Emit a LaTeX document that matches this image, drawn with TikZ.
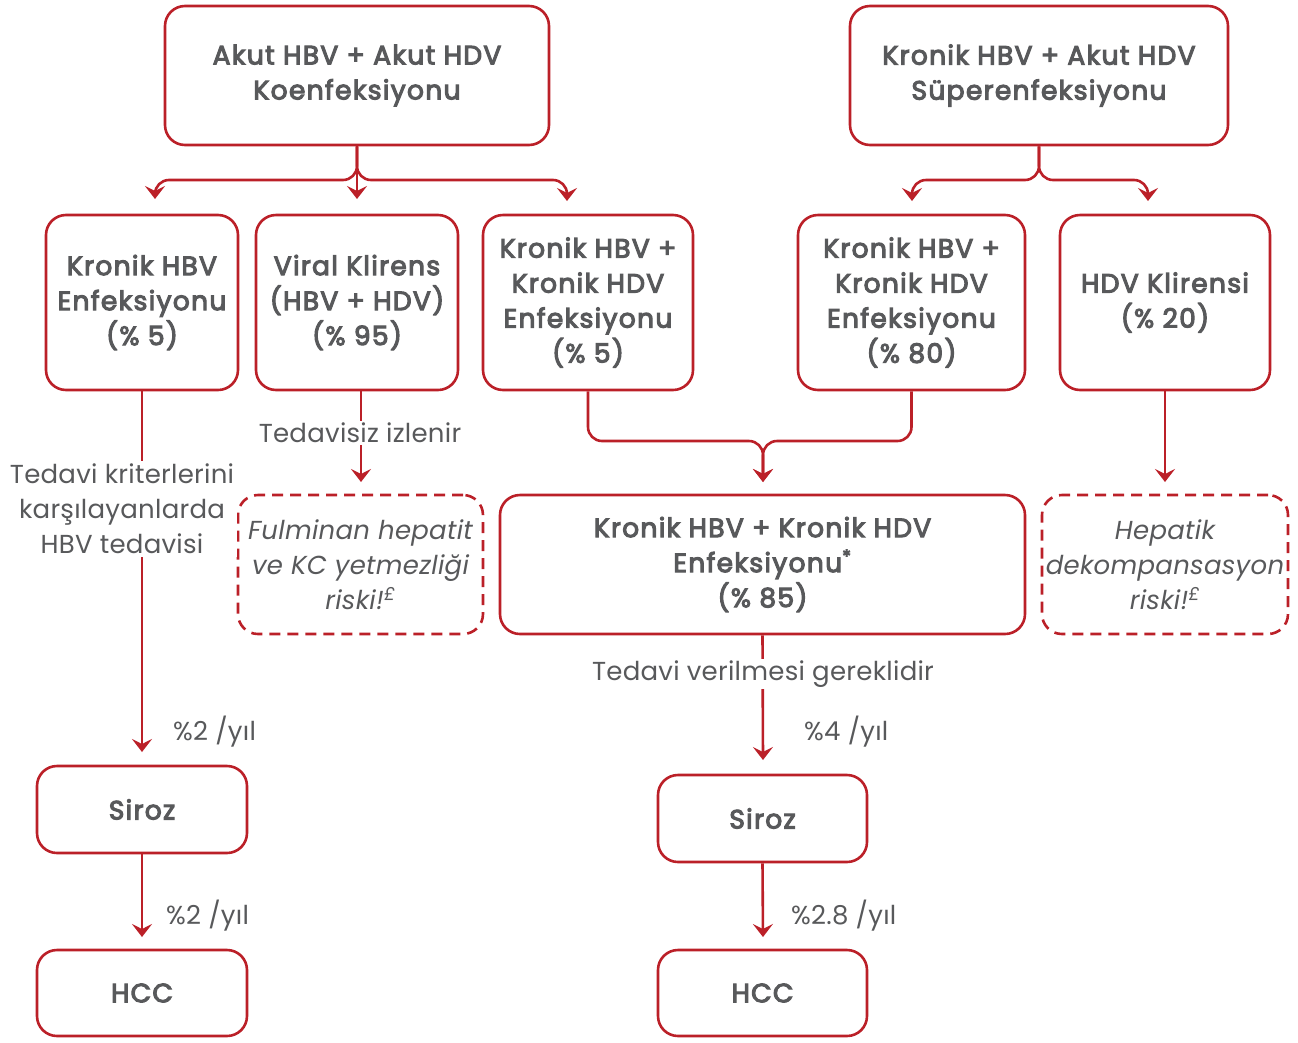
\documentclass[tikz,border=0pt]{standalone}
\usepackage{fontspec}
\setmainfont{Poppins}[LetterSpace=1]
\newfontfamily\medfont{Poppins}[FakeBold=4, LetterSpace=5]
\usetikzlibrary{arrows.meta}
\definecolor{cred}{HTML}{BB2028}
\definecolor{cgray}{HTML}{58595B}
\begin{document}
\begin{tikzpicture}[x=1pt,y=-1pt,
  box/.style={draw=cred, line width=2.6pt, rounded corners=20pt, inner sep=0pt, align=center,
    text=cgray, font=\medfont\fontsize{26.5}{35}\selectfont},
  dbox/.style={box, dash pattern=on 11pt off 7pt, font=\fontsize{26}{35}\selectfont\itshape},
  lbl/.style={text=cgray, align=center, font=\fontsize{26}{35}\selectfont, fill=white, inner sep=3pt},
  pct/.style={text=cgray, anchor=west, font=\fontsize{26}{35}\selectfont, inner sep=0pt},
  conn/.style={draw=cred, line width=2.6pt, rounded corners=14pt},
  arr/.style={conn, -{Stealth[length=13pt,width=20pt,inset=5pt]}}
]
\useasboundingbox (0,0) rectangle (1298,1042);
% top boxes
\node[box, minimum width=384pt, minimum height=139pt] (A) at (357,75.5) {Akut HBV + Akut HDV\\Koenfeksiyonu};
\node[box, minimum width=378pt, minimum height=139pt] (B) at (1039,75.5) {Kronik HBV + Akut HDV\\Süperenfeksiyonu};
% second row
\node[box, minimum width=192pt, minimum height=175pt] (C1) at (142,302.5) {Kronik HBV\\Enfeksiyonu\\(\% 5)};
\node[box, minimum width=202pt, minimum height=175pt] (C2) at (357,302.5) {Viral Klirens\\(HBV + HDV)\\(\% 95)};
\node[box, minimum width=210pt, minimum height=175pt] (C3) at (588,302.5) {Kronik HBV +\\Kronik HDV\\Enfeksiyonu\\(\% 5)};
\node[box, minimum width=227pt, minimum height=175pt] (C4) at (911.5,302.5) {Kronik HBV +\\Kronik HDV\\Enfeksiyonu\\(\% 80)};
\node[box, minimum width=210pt, minimum height=175pt] (C5) at (1165,302.5) {HDV Klirensi\\(\% 20)};
% third row
\node[dbox, minimum width=245pt, minimum height=139pt] (D1) at (360.5,564.5) {Fulminan hepatit\\ve KC yetmezliği\\riski!\textsuperscript{£}};
\node[box, minimum width=525pt, minimum height=139pt] (D2) at (762.5,564.5) {Kronik HBV + Kronik HDV\\Enfeksiyonu\textsuperscript{*}\\(\% 85)};
\node[dbox, minimum width=246pt, minimum height=139pt] (D3) at (1165,564.5) {Hepatik\\dekompansasyon\\riski!\textsuperscript{£}};
% bottom
\node[box, minimum width=210pt, minimum height=87pt] (S1) at (142,809.5) {Siroz};
\node[box, minimum width=209pt, minimum height=87pt] (S2) at (762.5,818.5) {Siroz};
\node[box, minimum width=210pt, minimum height=86pt] (H1) at (142,993) {HCC};
\node[box, minimum width=209pt, minimum height=86pt] (H2) at (762.5,993) {HCC};
% branch coordinates
\coordinate (a1) at (155,199);
\coordinate (a2) at (357,199);
\coordinate (a3) at (567,201);
\coordinate (b1) at (912,201);
\coordinate (b2) at (1148,201);
\draw[arr] (A.south) -- (357,180) -- (155,180) -- (a1);
\draw[arr] (A.south) -- (357,180) -- (567,180) -- (a3);
\draw[arr] (A.south) -- (a2);
\draw[arr] (B.south) -- (1039,180) -- (912,180) -- (b1);
\draw[arr] (B.south) -- (1039,180) -- (1148,180) -- (b2);
% merge
\coordinate (m) at (763,482);
\draw[arr] (C3.south) -- (588,441) -- (763,441) -- (m);
\draw[arr] (C4.south) -- (911.5,441) -- (763,441) -- (m);
% C1 down
\coordinate (s1t) at (142,752);
\draw[arr] (C1.south) -- (s1t);
\node[lbl] at (122,509) {Tedavi kriterlerini\\karşılayanlarda\\HBV tedavisi};
% C2 down
\coordinate (c2b) at (361,390);
\coordinate (c2t) at (361,482);
\draw[arr] (c2b) -- (c2t);
\node[lbl, inner sep=2pt] at (360,433) {Tedavisiz izlenir};
% C5 down
\coordinate (c5t) at (1165,482);
\draw[arr] (C5.south) -- (c5t);
% D2 down
\coordinate (s2t) at (763,760);
\draw[arr] (D2.south) -- (s2t);
\node[lbl, inner sep=2pt] at (763,674) {Tedavi verilmesi gereklidir};
% siroz to HCC
\coordinate (h1t) at (142,937);
\coordinate (h2t) at (763,937);
\draw[arr] (S1.south) -- (h1t);
\draw[arr] (S2.south) -- (h2t);
% percent labels
\node[pct] at (173,732) {\%2 /yıl};
\node[pct] at (804,732) {\%4 /yıl};
\node[pct] at (166,916) {\%2 /yıl};
\node[pct] at (791,916) {\%2.8 /yıl};
\end{tikzpicture}
\end{document}
